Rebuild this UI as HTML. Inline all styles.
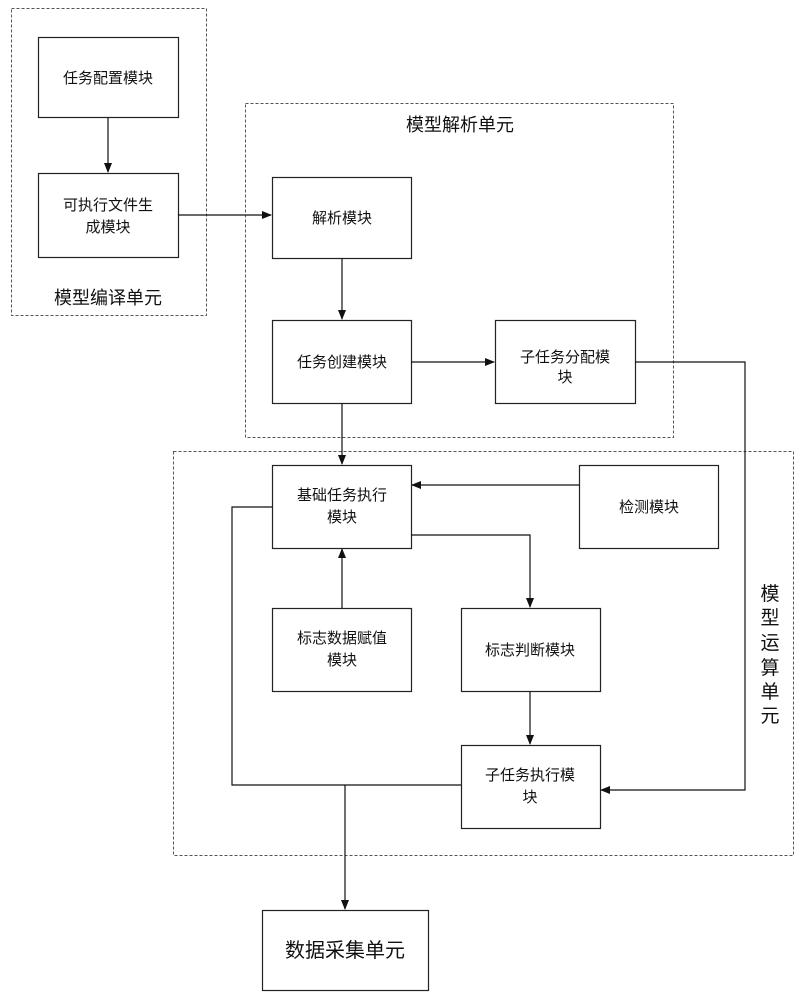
<!DOCTYPE html>
<html><head><meta charset="utf-8"><style>
body{margin:0;background:#fff;}
svg text{font-family:"Liberation Sans","Noto Sans CJK SC",sans-serif;fill:#111;}
</style></head><body>
<svg width="806" height="1000" viewBox="0 0 806 1000" xmlns="http://www.w3.org/2000/svg">
<defs><marker id="a" markerWidth="10" markerHeight="10" refX="9" refY="5" orient="auto" markerUnits="userSpaceOnUse"><path d="M0,1 L10,5 L0,9 z" fill="#111"/></marker></defs>
<g fill="none" stroke="#555" stroke-width="1" stroke-dasharray="3,2">
<rect x="11.5" y="8.5" width="195" height="307"/>
<rect x="245.5" y="103.5" width="428" height="334"/>
<rect x="173.5" y="451.5" width="620" height="404"/>
</g>
<g fill="#fff" stroke="#222" stroke-width="1.2">
<rect x="38.5" y="37.5" width="140" height="80"/>
<rect x="38.5" y="173.5" width="140" height="84"/>
<rect x="272.5" y="177.5" width="139" height="81"/>
<rect x="272.5" y="320.5" width="139" height="83"/>
<rect x="495.5" y="320.5" width="140" height="83"/>
<rect x="272.5" y="465.5" width="139" height="83"/>
<rect x="579.5" y="465.5" width="139" height="83"/>
<rect x="272.5" y="608.5" width="139" height="83"/>
<rect x="461.5" y="608.5" width="139" height="83"/>
<rect x="461.5" y="745.5" width="139" height="83"/>
<rect x="262.5" y="910.5" width="166" height="80"/>
</g>
<g fill="none" stroke="#111" stroke-width="1.2">
<line x1="108" y1="117" x2="108" y2="172" marker-end="url(#a)"/>
<line x1="178" y1="215" x2="271" y2="215" marker-end="url(#a)"/>
<line x1="342" y1="258" x2="342" y2="319" marker-end="url(#a)"/>
<line x1="411" y1="362" x2="494" y2="362" marker-end="url(#a)"/>
<polyline points="635,362 745,362 745,790 601,790" marker-end="url(#a)"/>
<line x1="342" y1="403" x2="342" y2="464" marker-end="url(#a)"/>
<line x1="579" y1="485" x2="412" y2="485" marker-end="url(#a)"/>
<polyline points="411,535 530,535 530,607" marker-end="url(#a)"/>
<line x1="342" y1="608" x2="342" y2="549" marker-end="url(#a)"/>
<line x1="530" y1="691" x2="530" y2="744" marker-end="url(#a)"/>
<polyline points="461,785 232,785 232,507 272,507"/>
<line x1="345" y1="785" x2="345" y2="909" marker-end="url(#a)"/>
</g>
<g font-size="15" text-anchor="middle">
<text x="108" y="83">任务配置模块</text>
<text x="108" y="210">可执行文件生</text><text x="108" y="232">成模块</text>
<text x="342" y="223">解析模块</text>
<text x="342" y="367">任务创建模块</text>
<text x="565" y="362">子任务分配模</text><text x="565" y="382">块</text>
<text x="342" y="500">基础任务执行</text><text x="342" y="522">模块</text>
<text x="649" y="512">检测模块</text>
<text x="342" y="643">标志数据赋值</text><text x="342" y="665">模块</text>
<text x="530" y="655">标志判断模块</text>
<text x="530" y="780">子任务执行模</text><text x="530" y="802">块</text>
<text x="345" y="957" font-size="20">数据采集单元</text>
<text x="108" y="304" font-size="18">模型编译单元</text>
<text x="460" y="131" font-size="18">模型解析单元</text>
<text x="770" y="600" font-size="19">模</text>
<text x="770" y="624" font-size="19">型</text>
<text x="770" y="649" font-size="19">运</text>
<text x="770" y="674" font-size="19">算</text>
<text x="770" y="698" font-size="19">单</text>
<text x="770" y="722" font-size="19">元</text>
</g>
</svg>
</body></html>
